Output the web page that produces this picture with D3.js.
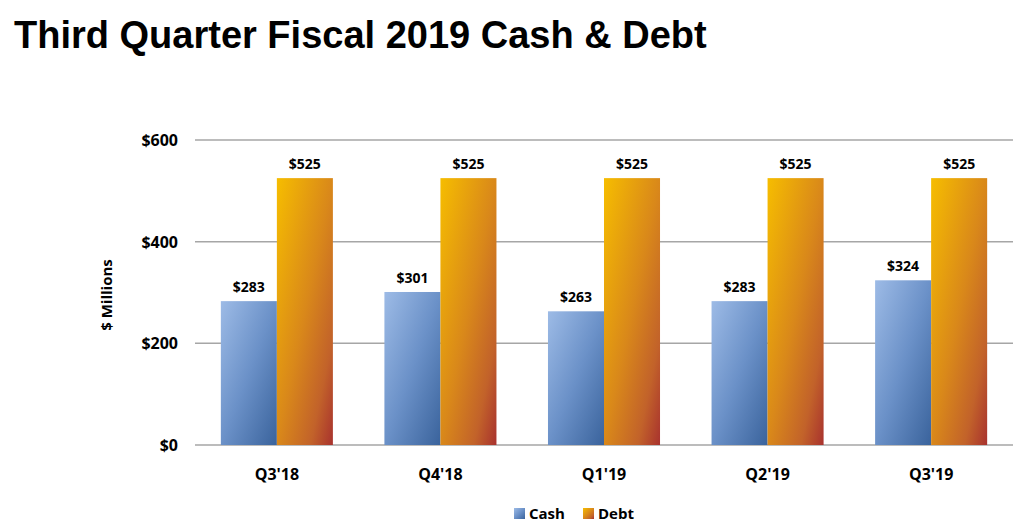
<!DOCTYPE html>
<html><head><meta charset="utf-8">
<script src="https://cdn.jsdelivr.net/npm/d3@7"></script>
<style>body{margin:0;background:#fff}</style>
</head><body>
<svg id="chart" width="1035" height="528"></svg>
<script>
const categories = ["Q3'18", "Q4'18", "Q1'19", "Q2'19", "Q3'19"];
const cash = [283, 301, 263, 283, 324];
const debt = [525, 525, 525, 525, 525];
const yTicks = [0, 200, 400, 600];

const svg = d3.select("#chart");
const font = "'Open Sans', 'Noto Sans', sans-serif";

// gradients
const defs = svg.append("defs");
function grad(id, stops) {
    const g = defs.append("linearGradient").attr("id", id)
        .attr("x1", 0).attr("y1", 0).attr("x2", 1).attr("y2", 1);
    stops.forEach(s => g.append("stop").attr("offset", s[0]).attr("stop-color", s[1]));
}
grad("gCash", [[0, "#9dbbe6"], [0.5, "#6b91c8"], [1, "#3a639c"]]);
grad("gDebt", [[0, "#f6bd00"], [0.5, "#d9881a"], [0.8, "#c2622a"], [1, "#a8322e"]]);

svg.append("text").attr("x", 14).attr("y", 48)
    .text("Third Quarter Fiscal 2019 Cash & Debt")
    .attr("font-family", "'Liberation Sans Narrow', 'Arial Narrow', 'Liberation Sans', sans-serif")
    .attr("font-weight", "bold").attr("font-size", "38px").attr("fill", "#000");

let scaleX = d3.scaleBand().domain(categories).range([195, 1013]).paddingInner(0.315).paddingOuter(0.158);
let scaleY = d3.scaleLinear().domain([0, 600]).range([445, 140]);
let sub = d3.scaleBand().domain(["cash", "debt"]).range([0, scaleX.bandwidth()]);

// grid
yTicks.forEach(t => {
    svg.append("line").attr("x1", 195).attr("x2", 1013)
        .attr("y1", scaleY(t)).attr("y2", scaleY(t))
        .attr("stroke", "#a6a6a6").attr("stroke-width", 1.5);
    svg.append("text").attr("x", 178).attr("y", scaleY(t) + 6)
        .attr("text-anchor", "end").text("$" + t)
        .attr("font-family", font).attr("font-weight", "bold").attr("font-size", "16px");
});

svg.append("text").attr("transform", "translate(112,295) rotate(-90)")
    .attr("text-anchor", "middle").text("$ Millions")
    .attr("font-family", font).attr("font-weight", "bold").attr("font-size", "15px");

const series = [["cash", cash, "url(#gCash)"], ["debt", debt, "url(#gDebt)"]];
categories.forEach((c, i) => {
    series.forEach(([key, vals, fill]) => {
        const x = scaleX(c) + sub(key);
        svg.append("rect").attr("x", x).attr("width", sub.bandwidth())
            .attr("y", scaleY(vals[i])).attr("height", scaleY(0) - scaleY(vals[i]))
            .attr("fill", fill);
        svg.append("text").attr("x", x + sub.bandwidth() / 2).attr("y", scaleY(vals[i]) - 9)
            .attr("text-anchor", "middle").text("$" + vals[i])
            .attr("font-family", font).attr("font-weight", "bold").attr("font-size", "14px");
    });
    svg.append("text").attr("x", scaleX(c) + scaleX.bandwidth() / 2).attr("y", 480)
        .attr("text-anchor", "middle").text(c)
        .attr("font-family", font).attr("font-weight", "bold").attr("font-size", "16px");
});

// legend
const legend = [["Cash", "url(#gCash)", 514], ["Debt", "url(#gDebt)", 583]];
legend.forEach(([name, fill, x]) => {
    svg.append("rect").attr("x", x).attr("y", 508).attr("width", 11).attr("height", 11).attr("fill", fill);
    svg.append("text").attr("x", x + 15).attr("y", 519).text(name)
        .attr("font-family", font).attr("font-weight", "bold").attr("font-size", "15px");
});
</script>
</body></html>
